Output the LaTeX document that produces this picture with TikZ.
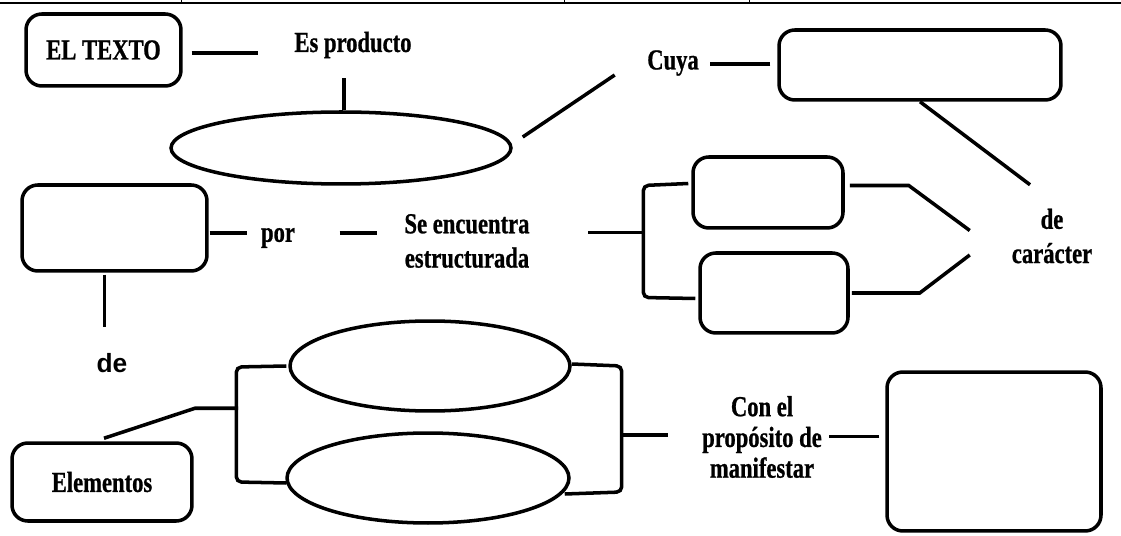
\documentclass[tikz,border=0pt]{standalone}
\usepackage{fontspec}
\setmainfont{Liberation Serif}[FakeStretch=0.78, BoldFeatures={FakeBold=0.8}]
\newfontfamily\sansletra{Liberation Sans}
\usetikzlibrary{shapes.geometric}
\tikzset{
  caja/.style={draw, line width=2pt, rounded corners=9pt, inner sep=0pt},
  elipse/.style={draw, ellipse, line width=2pt, inner sep=0pt},
  rotulo/.style={font=\bfseries\fontsize{16.5}{19.5}\selectfont, align=center, inner sep=0pt},
}
\begin{document}
\begin{tikzpicture}[x=0.02cm, y=-0.02cm, line width=2pt]
  \useasboundingbox (0,0) rectangle (1121,536);
  \draw[line width=1.2pt] (0,3) -- (1121,3);
  \foreach \t in {181,564,749} \draw[line width=0.4pt] (\t,0.5) -- (\t,3);

  \node[caja, rotulo, minimum width=3.1cm, minimum height=1.44cm] (eltexto) at (103.5,50) {EL TEXTO};
  \node[rotulo] (producto) at (353,45) {Es producto};
  \node[elipse, minimum width=6.8cm, minimum height=1.44cm] (elipse1) at (341,148) {};
  \node[rotulo] (cuya) at (673,63) {Cuya};
  \node[caja, minimum width=5.64cm, minimum height=1.4cm] (cajacuya) at (920,65) {};
  \node[rotulo] (caracter) at (1052,236) {de\\carácter};

  \node[caja, minimum width=3.7cm, minimum height=1.72cm] (cajapor) at (114.5,228) {};
  \node[rotulo] (por) at (278,238) {por};
  \node[rotulo] (encuentra) at (467,241) {Se encuentra\\estructurada};
  \node[caja, minimum width=3cm, minimum height=1.42cm] (cajaa) at (768,192.5) {};
  \node[caja, minimum width=2.96cm, minimum height=1.6cm] (cajab) at (774,293) {};

  \node[font=\sansletra\bfseries\fontsize{15}{18}\selectfont, inner sep=0pt] (de) at (112,363) {de};
  \node[caja, rotulo, minimum width=3.6cm, minimum height=1.56cm] (elementos) at (102,482) {Elementos};
  \node[elipse, minimum width=5.6cm, minimum height=1.8cm] (elipse2) at (430,366) {};
  \node[elipse, minimum width=5.64cm, minimum height=1.8cm] (elipse3) at (428,478) {};
  \node[rotulo, font=\bfseries\fontsize{16.5}{17.5}\selectfont] (proposito) at (762,437) {Con el\\propósito de\\manifestar};
  \node[caja, minimum width=4.28cm, minimum height=3.18cm] (cajafinal) at (994,451.5) {};

  \draw (eltexto.east) ++(9,3) -- ++(66,0);
  \draw (elipse1.north) ++(3,0) -- ++(0,-32);
  \draw (elipse1.east) ++(10,-11) -- ++(92,-62);
  \draw (cajacuya.west) ++(-7,-1) -- ++(-60,0);
  \draw (cajacuya.south) -- ++(110,83);

  \draw (cajapor.east) ++(1,5) -- ++(37,0);
  \draw (cajapor.east) ++(131,5) -- ++(37,0);
  \draw (cajaa.west) ++(-48,40) -- ++(-55,0);
  \draw[rounded corners=3pt] (cajaa.west) ++(-3,-9) -- ++(-45,2) -- ++(0,112) -- ++(52,1);
  \draw (cajaa.east) ++(5,-7) -- ++(59,0) -- ++(61,45);
  \draw (cajab.east) ++(2,0) -- ++(68,0) -- ++(50,-38);

  \draw (cajapor.south) ++(-10,2) -- ++(0,52);
  \draw (elementos.north) ++(2,-3) -- ++(91,-30) -- ++(43,0);
  \draw[rounded corners=3pt] (elipse2.west) ++(-2,0) -- ++(-50,1) -- ++(0,115) -- ++(50,1);
  \draw[rounded corners=3pt] (elipse2.east) ++(0,-2) -- ++(50,2) -- ++(0,126) -- ++(-57,2);
  \draw (elipse2.east) ++(50,69) -- ++(46,0);
  \draw (cajafinal.west) ++(-6,-15) -- ++(-50,0);
\end{tikzpicture}
\end{document}
